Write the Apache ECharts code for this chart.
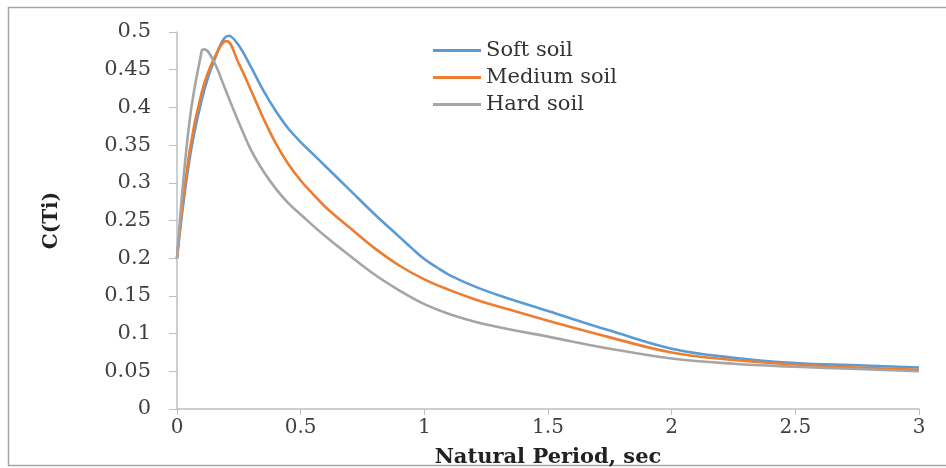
<!DOCTYPE html>
<html>
<head>
<meta charset="utf-8">
<script src="https://cdn.jsdelivr.net/npm/echarts@6/dist/echarts.min.js"></script>
<style>
html,body{margin:0;padding:0;background:#fff;}
#chart{width:946px;height:468px;}
</style>
</head>
<body>
<div id="chart"></div>
<script>
// Series data: [natural period (sec), C(Ti)]
const softSoil = [[0,0.2],[0.05,0.33],[0.1,0.41],[0.15,0.462],[0.21,0.495],[0.25,0.482],[0.3,0.453],[0.35,0.422],[0.4,0.395],[0.45,0.372],[0.5,0.354],[0.55,0.338],[0.6,0.322],[0.7,0.29],[0.8,0.258],[0.9,0.228],[0.95,0.213],[1.0,0.199],[1.05,0.188],[1.1,0.178],[1.2,0.163],[1.3,0.151],[1.5,0.13],[1.75,0.104],[2.0,0.08],[2.25,0.068],[2.5,0.061],[2.75,0.058],[3.0,0.055]];
const mediumSoil = [[0,0.2],[0.05,0.34],[0.1,0.42],[0.15,0.465],[0.2,0.488],[0.25,0.458],[0.3,0.422],[0.35,0.385],[0.4,0.352],[0.45,0.325],[0.5,0.303],[0.55,0.285],[0.6,0.268],[0.7,0.24],[0.8,0.213],[0.9,0.19],[1.0,0.172],[1.1,0.158],[1.2,0.146],[1.3,0.136],[1.5,0.117],[1.75,0.095],[2.0,0.075],[2.25,0.065],[2.5,0.059],[2.75,0.055],[3.0,0.052]];
const hardSoil = [[0,0.2],[0.05,0.38],[0.1,0.475],[0.11,0.477],[0.15,0.46],[0.2,0.42],[0.25,0.38],[0.3,0.343],[0.35,0.315],[0.4,0.292],[0.45,0.273],[0.5,0.258],[0.6,0.229],[0.7,0.203],[0.8,0.178],[0.9,0.157],[1.0,0.139],[1.1,0.126],[1.25,0.112],[1.5,0.096],[1.75,0.08],[2.0,0.067],[2.25,0.06],[2.5,0.056],[2.75,0.053],[3.0,0.05]];
const seriesNames = ['Soft soil','Medium soil','Hard soil'];
const seriesColors = ['#5B9BD5','#ED7D31','#A5A5A5'];
const xAxisTitle = 'Natural Period, sec';
const yAxisTitle = 'C(Ti)';

const FONT = 'DejaVu Serif';
const chart = echarts.init(document.getElementById('chart'), null, {renderer:'canvas'});
const mk = (name, data, color) => ({
  name, type:'line', data, smooth:0.4, symbol:'none',
  lineStyle:{color, width:2.6}, itemStyle:{color}
});
chart.setOption({
  animation:false,
  backgroundColor:'#fff',
  graphic:[{type:'rect', shape:{x:8.5,y:7.5,width:945,height:458}, style:{fill:'none',stroke:'#A6A6A6',lineWidth:1.5}, silent:true}],
  grid:{left:177, right:27, top:32, bottom:59, containLabel:false, outerBoundsMode:'none'},
  legend:{
    orient:'vertical', left:433, top:40, padding:0, itemWidth:48, itemHeight:3, itemGap:6,
    icon:'rect',
    data:seriesNames,
    textStyle:{fontFamily:FONT, fontSize:21, color:'#333'}
  },
  xAxis:{
    type:'value', min:0, max:3, interval:0.5,
    name:xAxisTitle, nameLocation:'middle', nameGap:38,
    nameTextStyle:{fontFamily:FONT, fontSize:21, fontWeight:'bold', color:'#222'},
    axisLine:{lineStyle:{color:'#BFBFBF', width:1.5}},
    axisTick:{show:true, length:6, lineStyle:{color:'#BFBFBF'}},
    axisLabel:{fontFamily:FONT, fontSize:20, color:'#404040', margin:9},
    splitLine:{show:false}
  },
  yAxis:{
    type:'value', min:0, max:0.5, interval:0.05,
    name:yAxisTitle, nameLocation:'middle', nameGap:115, nameRotate:90,
    nameTextStyle:{fontFamily:FONT, fontSize:20, fontWeight:'bold', color:'#222'},
    axisLine:{show:true, lineStyle:{color:'#BFBFBF', width:1.5}},
    axisTick:{show:true, length:8, lineStyle:{color:'#BFBFBF'}},
    axisLabel:{fontFamily:FONT, fontSize:21, color:'#404040', margin:26,
      formatter:v=>String(+v.toFixed(2))},
    splitLine:{show:false}
  },
  series:[
    mk(seriesNames[0], softSoil, seriesColors[0]),
    mk(seriesNames[1], mediumSoil, seriesColors[1]),
    mk(seriesNames[2], hardSoil, seriesColors[2])
  ]
});
</script>
</body>
</html>
